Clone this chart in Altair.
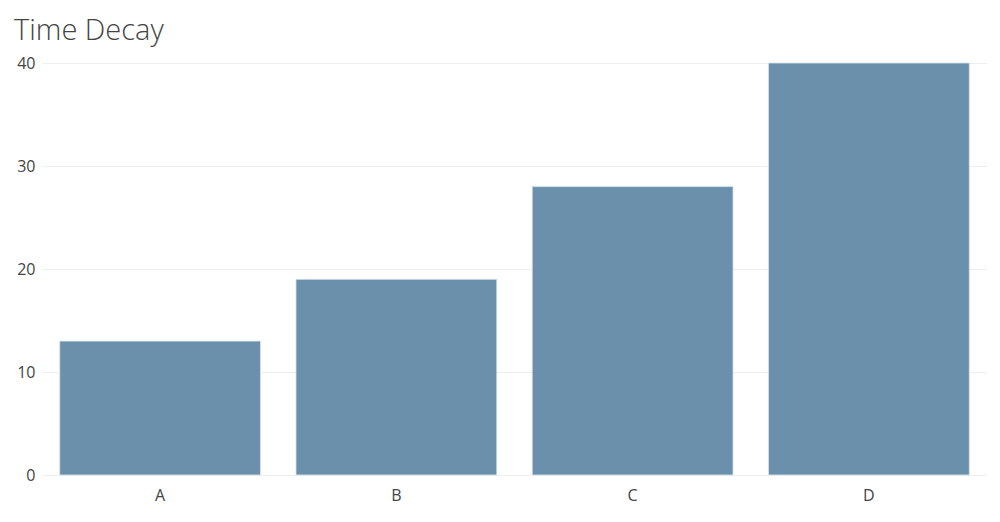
import altair as alt
import pandas as pd

categories = ["A", "B", "C", "D"]
values = [13, 19, 28, 40]

df = pd.DataFrame({"cat": categories, "val": values})

chart = alt.Chart(df).mark_bar(
    color="#6a90ab", stroke="#dce6ee", strokeWidth=0.8
).encode(
    x=alt.X("cat:N", title=None, sort=categories,
            scale=alt.Scale(paddingInner=0.15, paddingOuter=0.075),
            axis=alt.Axis(labelAngle=0, domain=False, ticks=False, labelPadding=12,
                          labelFont="Open Sans", labelFontSize=16, labelColor="#444")),
    y=alt.Y("val:Q", title=None, scale=alt.Scale(domain=[0, 40], nice=False),
            axis=alt.Axis(values=[0, 10, 20, 30, 40], domain=False, ticks=False,
                          labelPadding=7, gridColor="#eeeeee", gridWidth=1,
                          labelFont="Open Sans", labelFontSize=16, labelColor="#444")),
).properties(
    width=945, height=412,
    title=alt.TitleParams("Time Decay", anchor="start", frame="group", dx=-28, offset=9,
                          font="Open Sans", fontSize=29, fontWeight=300, color="#444"),
    autosize=alt.AutoSizeParams(type="none"),
    padding={"left": 34, "top": 55, "right": 5, "bottom": 35},
).configure_view(stroke=None)

chart.save("out.html", embed_options={"renderer": "svg", "actions": False})
